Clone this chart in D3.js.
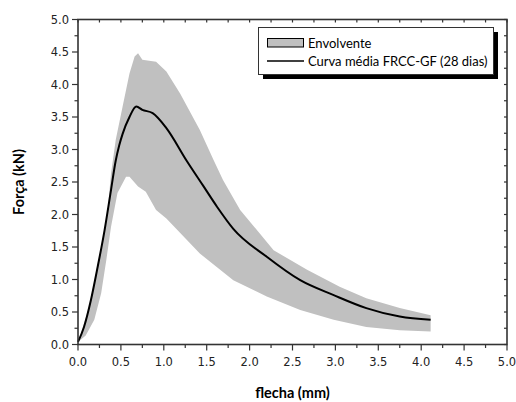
<!DOCTYPE html>
<html>
<head>
<meta charset="utf-8">
<script src="https://cdn.jsdelivr.net/npm/d3@7"></script>
<style>
    body { margin: 0; background: #fff; }
    svg { display: block; }
    .tick-label { font-family: "DejaVu Sans", sans-serif; font-size: 11.5px; fill: #222; }
    .title { font-family: Lato, sans-serif; font-weight: bold; font-size: 14.5px; fill: #000; }
    .legend-text { font-family: Lato, sans-serif; font-size: 13px; fill: #000; }
</style>
</head>
<body>
<svg width="516" height="402"></svg>
<script>
// mean curve (flecha mm, força kN)
const meanX = [0, 0.07, 0.15, 0.23, 0.31, 0.385, 0.44, 0.48, 0.52, 0.60, 0.68, 0.75, 0.87, 1.03, 1.27, 1.46, 1.62, 1.81, 2.20, 2.59, 2.98, 3.36, 3.75, 4.11];
const meanY = [0.04, 0.27, 0.68, 1.20, 1.76, 2.38, 2.83, 3.06, 3.24, 3.50, 3.66, 3.61, 3.56, 3.33, 2.82, 2.44, 2.12, 1.78, 1.35, 0.99, 0.76, 0.56, 0.43, 0.38];

// envelope upper edge
const upperX = [0, 0.035, 0.13, 0.21, 0.29, 0.35, 0.385, 0.44, 0.52, 0.60, 0.66, 0.70, 0.75, 0.91, 1.03, 1.19, 1.42, 1.58, 1.69, 1.89, 2.28, 2.67, 3.05, 3.36, 3.75, 4.11];
const upperY = [0.04, 0.17, 0.58, 1.10, 1.61, 2.12, 2.63, 3.15, 3.66, 4.17, 4.43, 4.48, 4.38, 4.35, 4.20, 3.86, 3.30, 2.84, 2.53, 2.07, 1.45, 1.15, 0.89, 0.71, 0.56, 0.45];

// envelope lower edge
const lowerX = [0, 0.09, 0.19, 0.27, 0.33, 0.385, 0.46, 0.56, 0.60, 0.70, 0.79, 0.91, 1.03, 1.42, 1.81, 2.20, 2.59, 2.98, 3.36, 3.75, 4.11];
const lowerY = [0.04, 0.14, 0.38, 0.79, 1.30, 1.81, 2.33, 2.58, 2.58, 2.43, 2.35, 2.07, 1.94, 1.40, 0.99, 0.74, 0.53, 0.38, 0.27, 0.22, 0.20];

const xMajor = [0, 0.5, 1, 1.5, 2, 2.5, 3, 3.5, 4, 4.5, 5];
const yMajor = [0, 0.5, 1, 1.5, 2, 2.5, 3, 3.5, 4, 4.5, 5];
const minorStep = 0.25;

const legendLabels = ["Envolvente", "Curva média FRCC-GF (28 dias)"];

const svg = d3.select("svg");
const plotLeft = 78, plotRight = 507, plotTop = 19.5, plotBottom = 344.5;

const x = d3.scaleLinear().domain([0, 5]).range([plotLeft, plotRight]);
const y = d3.scaleLinear().domain([0, 5]).range([plotBottom, plotTop]);

// envelope polygon: upper forward, lower backward
const upper = upperX.map((d, i) => [d, upperY[i]]);
const lower = lowerX.map((d, i) => [d, lowerY[i]]).reverse();
const poly = upper.concat(lower);

svg.append("path")
    .attr("d", d3.line().x(d => x(d[0])).y(d => y(d[1]))(poly) + "Z")
    .attr("fill", "#c0c0c0")
    .attr("stroke", "none");

const mean = meanX.map((d, i) => [d, meanY[i]]);
svg.append("path")
    .attr("d", d3.line().x(d => x(d[0])).y(d => y(d[1])).curve(d3.curveMonotoneX)(mean))
    .attr("fill", "none")
    .attr("stroke", "#000")
    .attr("stroke-width", 2);

// ticks
const minor = d3.range(0, 5.0001, minorStep);
const axisColor = "#333";

const g = svg.append("g").attr("stroke", axisColor).attr("stroke-width", 1.2);
minor.forEach(v => {
    const isMajor = Math.abs(v * 2 - Math.round(v * 2)) < 1e-6;
    const out = isMajor ? 6 : 3.5;
    // bottom, outward
    g.append("line").attr("x1", x(v)).attr("x2", x(v)).attr("y1", plotBottom).attr("y2", plotBottom + out);
    // left, outward
    g.append("line").attr("x1", plotLeft).attr("x2", plotLeft - out).attr("y1", y(v)).attr("y2", y(v));
    // top, inward
    g.append("line").attr("x1", x(v)).attr("x2", x(v)).attr("y1", plotTop).attr("y2", plotTop + 3);
    // right, inward
    g.append("line").attr("x1", plotRight).attr("x2", plotRight - 3).attr("y1", y(v)).attr("y2", y(v));
});

// frame
svg.append("rect")
    .attr("x", plotLeft).attr("y", plotTop)
    .attr("width", plotRight - plotLeft).attr("height", plotBottom - plotTop)
    .attr("fill", "none").attr("stroke", axisColor).attr("stroke-width", 1.6);

// tick labels
svg.selectAll(".xl").data(xMajor).enter().append("text")
    .attr("class", "tick-label")
    .attr("x", d => x(d)).attr("y", 366)
    .attr("text-anchor", "middle")
    .text(d => d.toFixed(1));

svg.selectAll(".yl").data(yMajor).enter().append("text")
    .attr("class", "tick-label")
    .attr("x", 69).attr("y", d => y(d) + 4)
    .attr("text-anchor", "end")
    .text(d => d.toFixed(1));

// axis titles
svg.append("text").attr("class", "title")
    .attr("x", (plotLeft + plotRight) / 2).attr("y", 398)
    .attr("text-anchor", "middle")
    .text("flecha (mm)");

svg.append("text").attr("class", "title")
    .attr("transform", `translate(24, ${(plotTop + plotBottom) / 2}) rotate(-90)`)
    .attr("text-anchor", "middle")
    .text("Força (kN)");

// legend
const lg = svg.append("g");
lg.append("rect").attr("x", 263).attr("y", 32).attr("width", 235).attr("height", 47).attr("fill", "#000");
lg.append("rect").attr("x", 258.5).attr("y", 27.5).attr("width", 235).attr("height", 47)
    .attr("fill", "#fff").attr("stroke", "#333").attr("stroke-width", 1);
lg.append("rect").attr("x", 267.5).attr("y", 38.5).attr("width", 36).attr("height", 8.5)
    .attr("fill", "#c0c0c0").attr("stroke", "#000").attr("stroke-width", 1);
lg.append("line").attr("x1", 267).attr("x2", 304).attr("y1", 61).attr("y2", 61)
    .attr("stroke", "#000").attr("stroke-width", 1.6);
lg.selectAll(".lt").data(legendLabels).enter().append("text")
    .attr("class", "legend-text")
    .attr("x", 308).attr("y", (d, i) => 47.5 + i * 18.5)
    .text(d => d);
</script>
</body>
</html>
